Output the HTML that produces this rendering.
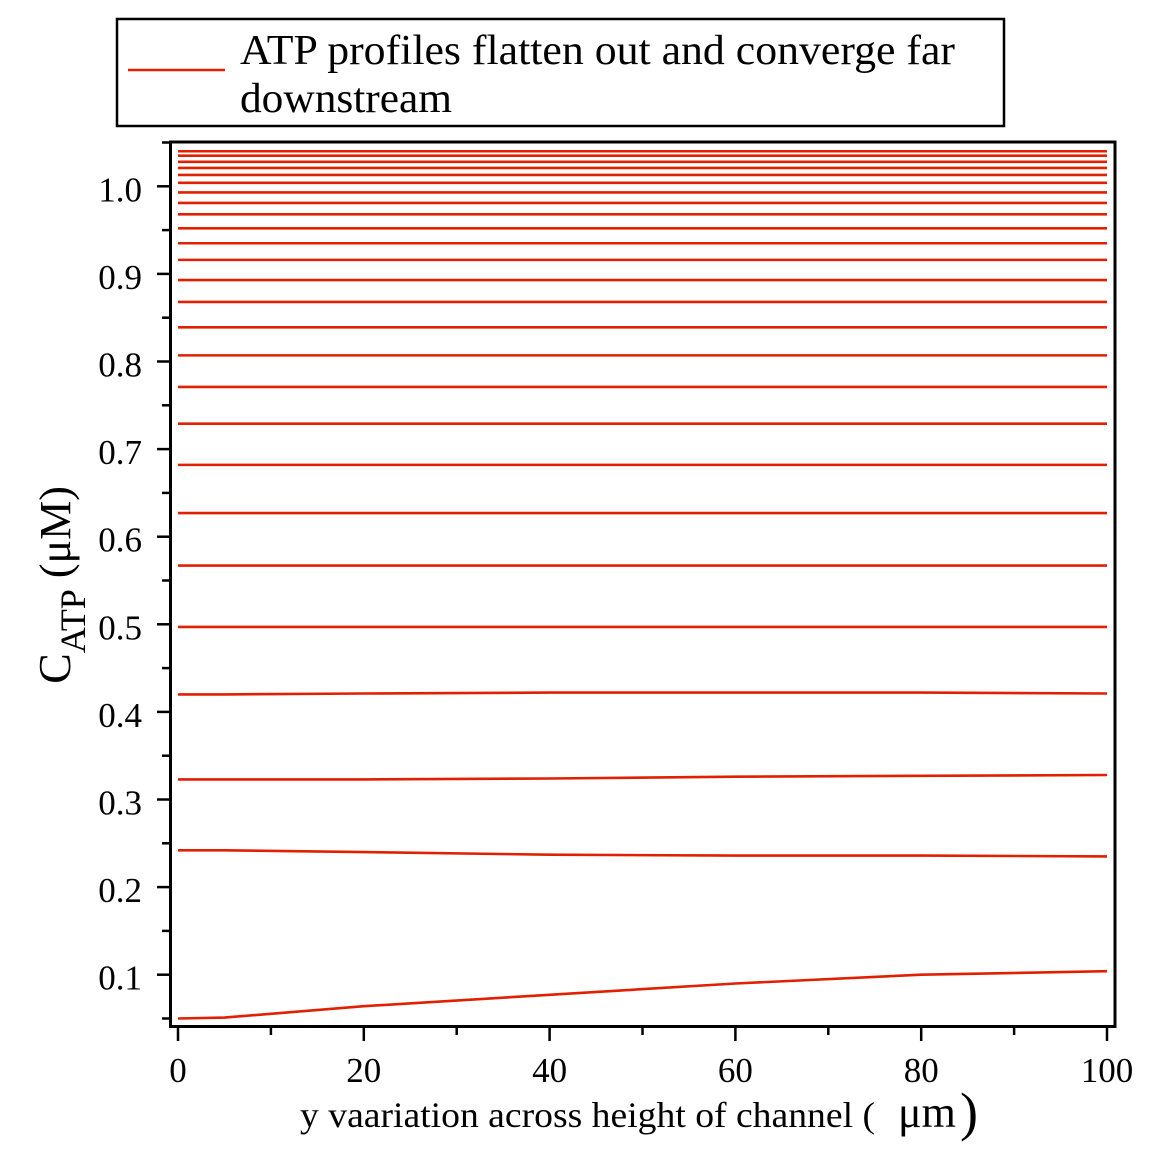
<!DOCTYPE html>
<html><head><meta charset="utf-8"><style>
html,body{margin:0;padding:0;background:#fff;}
svg{display:block;font-family:"Liberation Serif",serif;}
</style></head><body>
<svg id="chart" width="1157" height="1157" viewBox="0 0 1157 1157" xmlns="http://www.w3.org/2000/svg">
<rect width="1157" height="1157" fill="#fff"/>
<g>
<rect x="117" y="19" width="887" height="107" fill="#fff" stroke="#000" stroke-width="2.5"/>
<line x1="128" y1="70" x2="225" y2="70" stroke="#e02000" stroke-width="2.4"/>
<text x="240" y="64" font-size="42" textLength="715" lengthAdjust="spacingAndGlyphs">ATP profiles flatten out and converge far</text>
<text x="240" y="112" font-size="42" textLength="212" lengthAdjust="spacingAndGlyphs">downstream</text>
</g>
<g id="marks"></g>
<g id="axes"></g>
<text transform="translate(70,585) rotate(-90)" font-size="46" text-anchor="middle">C<tspan font-size="36" dy="15">ATP</tspan><tspan font-size="44" dy="-15"> (μM)</tspan></text>
<text x="300" y="1127" font-size="36" textLength="575" lengthAdjust="spacingAndGlyphs">y vaariation across height of channel (</text>
<text x="898" y="1127" font-size="44">μm</text>
<text x="960" y="1130" font-size="54">)</text>
</svg>
<script>
const xTicks=[0,20,40,60,80,100];
const yTicks=[0.1,0.2,0.3,0.4,0.5,0.6,0.7,0.8,0.9,1.0];
const yTickLabels=["0.1","0.2","0.3","0.4","0.5","0.6","0.7","0.8","0.9","1.0"];
const flatLevels=[1.040,1.035,1.028,1.021,1.013,1.004,0.993,0.981,0.968,0.952,0.935,0.916,0.893,0.868,0.839,0.807,0.771,0.729,0.682,0.627,0.567,0.497];
const curveX=[0,5,20,40,60,80,100];
const curve042=[0.420,0.420,0.421,0.422,0.422,0.422,0.421];
const curve032=[0.323,0.323,0.323,0.324,0.326,0.327,0.328];
const curve024=[0.242,0.242,0.240,0.237,0.236,0.236,0.235];
const curve005=[0.050,0.051,0.064,0.077,0.090,0.100,0.104];

const X=v=>178+(v/100)*929;
const Y=v=>974.7-(v-0.1)*876;
const NS="http://www.w3.org/2000/svg";
const marks=document.getElementById('marks'), axes=document.getElementById('axes');
function mk(tag,attrs,parent){const e=document.createElementNS(NS,tag);for(const k in attrs)e.setAttribute(k,attrs[k]);parent.appendChild(e);return e;}
flatLevels.forEach((v,i)=>{
  const l=mk('line',{x1:X(0),x2:X(100),y1:Y(v),y2:Y(v),stroke:'#e02000','stroke-width':2.6},marks);
  
  
});
[curve042,curve032,curve024,curve005].forEach((s,i)=>{
  const d=s.map((v,j)=>(j?'L':'M')+X(curveX[j]).toFixed(1)+','+Y(v).toFixed(1)).join(' ');
  const p=mk('path',{d:d,fill:'none',stroke:'#e02000','stroke-width':2.6,'stroke-linejoin':'round'},marks);
  
  
});
const fr=mk('rect',{x:170.5,y:142,width:944.5,height:884.5,fill:'none',stroke:'#000','stroke-width':3},axes);


yTicks.forEach((v,i)=>{
  mk('line',{x1:157,x2:170,y1:Y(v),y2:Y(v),stroke:'#000','stroke-width':2.5},axes);
  mk('line',{x1:162,x2:170,y1:Y(v-0.05),y2:Y(v-0.05),stroke:'#000','stroke-width':2.5},axes);
  const t=mk('text',{x:142,y:Y(v)+15,'font-size':35,'text-anchor':'end'},axes);
  t.textContent=yTickLabels[i];
  
  
});
mk('line',{x1:162,x2:170,y1:Y(1.05),y2:Y(1.05),stroke:'#000','stroke-width':2.5},axes);
xTicks.forEach((v,i)=>{
  mk('line',{x1:X(v),x2:X(v),y1:1026,y2:1041,stroke:'#000','stroke-width':2.5},axes);
  if(v<100) mk('line',{x1:X(v+10),x2:X(v+10),y1:1026,y2:1035,stroke:'#000','stroke-width':2.5},axes);
  const t=mk('text',{x:X(v),y:1082,'font-size':35,'text-anchor':'middle'},axes);
  t.textContent=String(v);
  
  
});
</script>
</body></html>
